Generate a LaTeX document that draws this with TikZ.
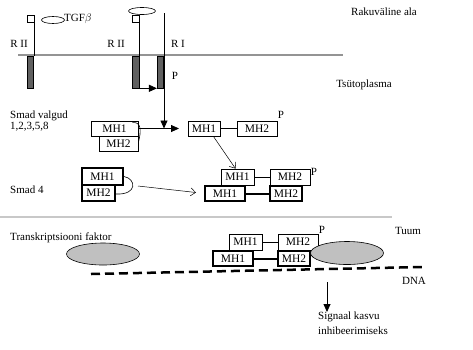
\documentclass[tikz,border=0pt]{standalone}
\usepackage{fontspec}
\setmainfont{Liberation Serif}
\usepackage{tikz}
\usetikzlibrary{arrows.meta,positioning,shapes.geometric,calc}
\definecolor{memgrey}{HTML}{949494}
\definecolor{nucgrey}{HTML}{C8C8C8}
\definecolor{bargrey}{HTML}{606060}
\definecolor{tfgrey}{HTML}{C0C0C0}

\begin{document}
\begin{tikzpicture}[x=1pt,y=-1pt,
  lbl/.style={font=\fontsize{11}{15}\selectfont,inner sep=0pt},
  mh/.style={draw,line width=0.8pt,inner sep=0pt,font=\fontsize{11.5}{12}\selectfont},
  mhthick/.style={mh,line width=2pt},
  bar/.style={draw,fill=bargrey,line width=0.6pt,minimum width=6.5pt,minimum height=32pt,inner sep=0pt},
  sq/.style={draw,line width=0.8pt,minimum size=7pt,inner sep=0pt},
  lig/.style={draw,ellipse,line width=0.6pt,inner sep=0pt},
  tf/.style={draw,ellipse,fill=tfgrey,line width=0.6pt,minimum width=73pt,minimum height=22pt,inner sep=0pt},
  fill arrow/.style={-{Triangle[length=8pt,width=7pt]},line width=0.8pt},
  open arrow/.style={-{Straight Barb[length=5pt,width=8pt]},line width=0.5pt}]
\useasboundingbox (0,0) rectangle (473,349);

% membranes
\draw[memgrey,line width=2pt] (18,55) -- (343,55);
\draw[nucgrey,line width=2pt] (0,217) -- (392,217);

% receptors
\node[sq] (q1) at (30.5,18.5) {};
\node[sq] (q2) at (135.5,18.5) {};
\node[bar] (b1) at (30.5,72) {};
\node[bar] (b2) at (136,72) {};
\node[bar] (b3) at (160.5,72) {};
\node[lig,minimum width=23pt,minimum height=7pt] (tgf) at (53,20) {};
\node[lig,minimum width=27pt,minimum height=7pt] (lig2) at (142,11) {};
\coordinate (ritop) at (164,13);
\draw[line width=0.8pt] (q1.south east) -- (q1.south east |- b1.north);
\draw[line width=0.8pt] (q2.south east) -- (q2.south east |- b2.north);
\draw[fill arrow] (b2.south east) -- (b3.south west);

\node[lbl] at (19,44) {R II};
\node[lbl] at (116,44) {R II};
\node[lbl] at (178,44) {R I};
\node[lbl,anchor=west] at (64,19) {TGF$\beta$};
\node[lbl] at (175,76) {P};
\node[lbl] at (384,12) {Rakuväline ala};
\node[lbl] at (364,85) {Tsütoplasma};

% R-Smad
\node[lbl,anchor=west] at (10,116) {Smad valgud};
\node[lbl,anchor=west] at (10,127) {1,2,3,5,8};
\node[mh,minimum width=39pt,minimum height=15pt] (s2) at (118.5,143.5) {MH2};
\node[mh,minimum width=47pt,minimum height=15pt] (s1) at (114.5,128.5) {MH1};
\draw[line width=0.6pt] ($(s1.north east)+(-6,2)$) .. controls ($(s1.north east)+(3,1)$) and ($(s1.east)+(3,2)$) .. ($(s2.east)+(0,-1)$);
\draw[fill arrow] (ritop) -- (ritop |- s1.east);
\draw[fill arrow,shorten >=9pt] (s1.east) -- (s1.east -| 188,0);

\node[mh,minimum width=32pt,minimum height=15pt] (p1) at (204,128.5) {MH1};
\node[mh,minimum width=40pt,minimum height=15pt] (p2) at (257,128.5) {MH2};
\draw[line width=0.6pt] (p1.east) -- (p2.west);
\node[lbl] at (281,115) {P};

% Smad 4
\node[lbl,anchor=west] at (10,190) {Smad 4};
\node[mhthick,minimum width=41pt,minimum height=17pt] (f1) at (102.5,176.5) {MH1};
\node[mhthick,minimum width=33pt,minimum height=16pt] (f2) at (98.5,193) {MH2};
\draw[line width=0.6pt] (f1.east) .. controls ($(f1.east)+(12,2)$) and ($(f2.east)+(22,2)$) .. ($(f2.east)+(0,1)$);

% complex
\node[mh,minimum width=33pt,minimum height=16pt] (c1) at (237.5,177) {MH1};
\node[mh,minimum width=40pt,minimum height=16pt] (c2) at (290,177) {MH2};
\node[mhthick,minimum width=40pt,minimum height=15pt] (c3) at (225,193.5) {MH1};
\node[mhthick,minimum width=32pt,minimum height=15pt] (c4) at (286,193.5) {MH2};
\draw[line width=0.6pt] (c1.east) -- (c2.west);
\draw[line width=2pt] (c3.east) -- (c4.west);
\node[lbl] at (314,172) {P};
\coordinate (f4out) at (138,186);
\draw[open arrow] ($(p1.south east)+(-7,0)$) -- ($(c1.north)+(-2,0)$);
\draw[open arrow] (f4out) -- ($(c3.west)+(-8,-1)$);

% nucleus
\node[lbl,anchor=west] at (10,238) {Transkriptsiooni faktor};
\node[tf] (tf1) at (103,254) {};
\node[mh,minimum width=33pt,minimum height=16pt] (n1) at (245.5,242) {MH1};
\node[mh,minimum width=40pt,minimum height=16pt] (n2) at (298,242) {MH2};
\node[mhthick,minimum width=40pt,minimum height=15pt] (n3) at (233,258.5) {MH1};
\node[mhthick,minimum width=32pt,minimum height=15pt] (n4) at (294,258.5) {MH2};
\draw[line width=0.6pt] (n1.east) -- (n2.west);
\draw[line width=2pt] (n3.east) -- (n4.west);
\node[tf,minimum height=23pt] (tf2) at (347,253) {};
\node[lbl] at (322,230) {P};
\node[lbl] at (408,231) {Tuum};

\coordinate (dna1) at (91,274);
\coordinate (dna2) at (423,267);
\draw[line width=2.5pt,dash pattern=on 9pt off 5pt] (dna1) -- (dna2);
\node[lbl] at (414,281) {DNA};

\node[lbl,anchor=north west,align=left] (sig) at (318,312) {Signaal kasvu\\inhibeerimiseks};
\coordinate (sigtop) at (327,282);
\draw[fill arrow] (sigtop) -- (sigtop |- sig.north);
\end{tikzpicture}
\end{document}
